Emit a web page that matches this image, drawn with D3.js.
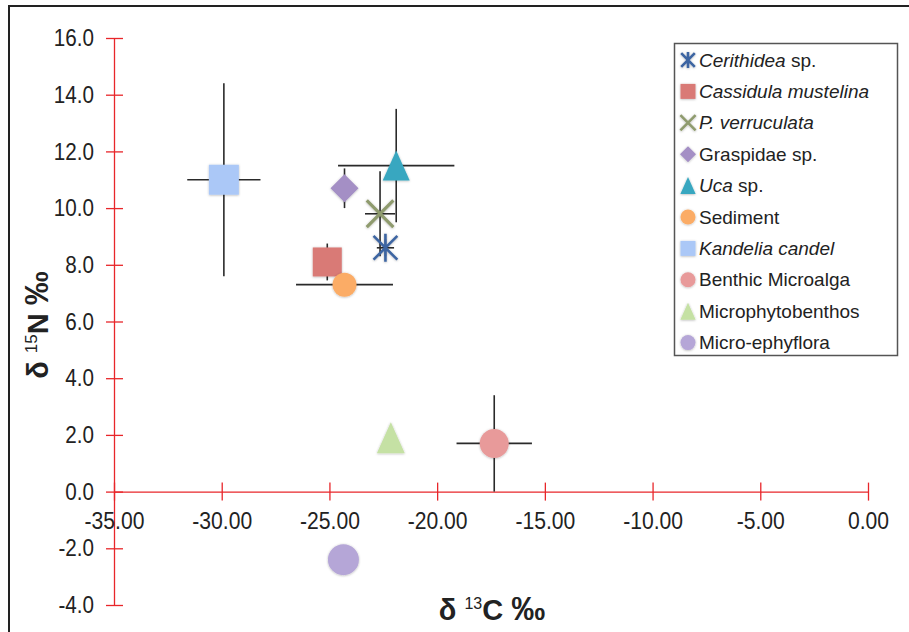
<!DOCTYPE html>
<html><head><meta charset="utf-8">
<script src="https://cdn.jsdelivr.net/npm/d3@7"></script>
<style>html,body{margin:0;padding:0;background:#fff;}svg{display:block;font-family:"Liberation Sans",Arial,sans-serif;}</style>
</head><body>
<svg id="chart" width="909" height="632"></svg>
<script>
// ---- data ----
const series = ["Cerithidea sp.", "Cassidula mustelina", "P. verruculata", "Graspidae sp.", "Uca sp.",
  "Sediment", "Kandelia candel", "Benthic Microalga", "Microphytobenthos", "Micro-ephyflora"];
const d13C = [-22.4, -25.1, -22.65, -24.3, -21.9, -24.3, -29.9, -17.35, -22.15, -24.35];
const d15N = [8.6, 8.1, 9.8, 10.7, 11.5, 7.3, 11.0, 1.7, 1.9, -2.4];
const errC = [0.4, 0.5, 0.7, 0.4, 2.7, 2.25, 1.7, 1.75, 0, 0];
const errN = [0.3, 0.65, 1.5, 0.7, 2.0, 0.3, 3.4, 1.7, 0, 0];
const xTicks = [-35, -30, -25, -20, -15, -10, -5, 0];
const yTicks = [-4, -2, 0, 2, 4, 6, 8, 10, 12, 14, 16];

// ---- style ----
const colors = ["#3d65a2", "#d97a76", "#8f9b6e", "#a48fc5", "#38a7c0", "#fbac66", "#abc8f7", "#e89a9a", "#c5e1a4", "#b5a6d7"];
const shapes = ["star", "square", "x", "diamond", "triangle", "circle", "square", "circle", "triangle", "circle"];
const sizes = [28, 29, 28, 28, 30, 24, 30, 29, 31, 31];
const italicParts = [["Cerithidea", " sp."], ["Cassidula mustelina", ""], ["P. verruculata", ""], ["", "Graspidae sp."],
  ["Uca", " sp."], ["", "Sediment"], ["Kandelia candel", ""], ["", "Benthic Microalga"], ["", "Microphytobenthos"], ["", "Micro-ephyflora"]];

const svg = d3.select("#chart");
const defs = svg.append("defs");
const f = defs.append("filter").attr("id", "sh").attr("x", "-30%").attr("y", "-30%").attr("width", "160%").attr("height", "160%");
f.append("feDropShadow").attr("dx", 0).attr("dy", 0.5).attr("stdDeviation", 1).attr("flood-color", "#000").attr("flood-opacity", 0.3);

const x = d3.scaleLinear().domain([-35, 0]).range([114, 868]);
const y = d3.scaleLinear().domain([-4, 16]).range([605, 38]);
const red = "#e8262a";
const hy = fmt => d => d3.format(fmt)(d).replace("\u2212", "-");

// frame
svg.append("path").attr("d", "M9,632 L9,6 L909,6").attr("fill", "none").attr("stroke", "#222").attr("stroke-width", 2);

function compress(sel, k) {
  sel.each(function () {
    const w = this.getComputedTextLength();
    d3.select(this).attr("textLength", w * k).attr("lengthAdjust", "spacingAndGlyphs");
  });
}

// y axis
const gy = svg.append("g").attr("transform", `translate(${x(-35)},0)`)
  .call(d3.axisLeft(y).tickValues(yTicks).tickFormat(hy(".1f")).tickSize(8).tickSizeOuter(0));
gy.select(".domain").attr("stroke", red).attr("stroke-width", 1.3);
gy.selectAll(".tick line").attr("stroke", red).attr("stroke-width", 1.3).attr("x1", -8).attr("x2", 9);
gy.selectAll(".tick text").attr("x", -20).attr("font-size", 24).attr("fill", "#222")
  .attr("font-family", "Liberation Sans, Arial, sans-serif").call(compress, 0.86);

// x axis
const gx = svg.append("g").attr("transform", `translate(0,${y(0)})`)
  .call(d3.axisBottom(x).tickValues(xTicks).tickFormat(hy(".2f")).tickSize(8).tickSizeOuter(0));
gx.select(".domain").attr("stroke", red).attr("stroke-width", 1.3);
gx.selectAll(".tick line").attr("stroke", red).attr("stroke-width", 1.3).attr("y1", -9).attr("y2", 9);
gx.selectAll(".tick text").attr("y", 29).attr("dy", "0.35em").attr("font-size", 24).attr("fill", "#222")
  .attr("font-family", "Liberation Sans, Arial, sans-serif").call(compress, 0.88);

// axis titles
const xt = svg.append("text").attr("x", 492).attr("y", 620).attr("text-anchor", "middle")
  .attr("font-weight", "bold").attr("font-size", 29).attr("fill", "#222");
xt.append("tspan").text("δ ");
xt.append("tspan").text("13").attr("font-size", 16).attr("font-weight", "normal").attr("dy", -11);
xt.append("tspan").text("C ").attr("dy", 11);
xt.append("tspan").text("‰").attr("font-size", 34);

const yt = svg.append("text").attr("transform", "translate(48,325) rotate(-90)").attr("text-anchor", "middle")
  .attr("font-weight", "bold").attr("font-size", 29).attr("fill", "#222");
yt.append("tspan").text("δ ");
yt.append("tspan").text("15").attr("font-size", 17).attr("font-weight", "normal").attr("dy", -11);
yt.append("tspan").text("N ").attr("dy", 11);
yt.append("tspan").text("‰").attr("font-size", 34);

// symbol paths
function shapePath(shape, s) {
  const h = s / 2;
  switch (shape) {
    case "square": return `M${-h},${-h}H${h}V${h}H${-h}Z`;
    case "diamond": return `M0,${-h}L${h},0L0,${h}L${-h},0Z`;
    case "triangle": { const w = s * 0.45; return `M0,${-h}L${w},${h}L${-w},${h}Z`; }
    case "circle": return `M${h},0A${h},${h} 0 1,1 ${-h},0A${h},${h} 0 1,1 ${h},0Z`;
    case "x": { const a = h * 0.95; return `M${-a},${-a}L${a},${a}M${a},${-a}L${-a},${a}`; }
    case "star": { const a = h * 0.85; return `M${-a},${-a}L${a},${a}M${a},${-a}L${-a},${a}M0,${-h}L0,${h}`; }
  }
}
const isLine = s => s === "x" || s === "star";

// error bars
const idx = d3.range(series.length);
const eb = svg.append("g").attr("stroke", "#2a2a2a").attr("stroke-width", 1.6);
idx.forEach(i => {
  if (errC[i] > 0) eb.append("line").attr("x1", x(d13C[i] - errC[i])).attr("x2", x(d13C[i] + errC[i]))
    .attr("y1", y(d15N[i])).attr("y2", y(d15N[i]));
  if (errN[i] > 0) eb.append("line").attr("x1", x(d13C[i])).attr("x2", x(d13C[i]))
    .attr("y1", y(d15N[i] - errN[i])).attr("y2", y(d15N[i] + errN[i]));
});

// markers
const order = [6, 4, 3, 1, 5, 2, 0, 7, 8, 9];
svg.append("g").selectAll("path").data(order).join("path")
  .attr("transform", i => `translate(${x(d13C[i])},${y(d15N[i])})`)
  .attr("d", i => shapePath(shapes[i], sizes[i]))
  .attr("fill", i => isLine(shapes[i]) ? "none" : colors[i])
  .attr("stroke", i => isLine(shapes[i]) ? colors[i] : "none")
  .attr("stroke-width", i => shapes[i] === "x" ? 3.2 : 2.6)
  .attr("filter", "url(#sh)");

// legend
const lg = svg.append("g");
lg.append("rect").attr("x", 674.5).attr("y", 43.5).attr("width", 223).attr("height", 312)
  .attr("fill", "#fff").attr("stroke", "#555").attr("stroke-width", 1.5);
const rowY = i => 60 + i * 31.4;
idx.forEach(i => {
  const sz = shapes[i] === "diamond" ? 16 : (shapes[i] === "triangle" ? 17 : (isLine(shapes[i]) ? 16 : 15));
  lg.append("path").attr("transform", `translate(688,${rowY(i)})`)
    .attr("d", shapePath(shapes[i], sz))
    .attr("fill", isLine(shapes[i]) ? "none" : colors[i])
    .attr("stroke", isLine(shapes[i]) ? colors[i] : "none")
    .attr("stroke-width", 2.6).attr("filter", "url(#sh)");
  const t = lg.append("text").attr("x", 699).attr("y", rowY(i)).attr("dy", "0.35em")
    .attr("font-size", 19).attr("fill", "#222");
  if (italicParts[i][0]) t.append("tspan").attr("font-style", "italic").text(italicParts[i][0]);
  if (italicParts[i][1]) t.append("tspan").text(italicParts[i][1]);
});
</script>
</body></html>
